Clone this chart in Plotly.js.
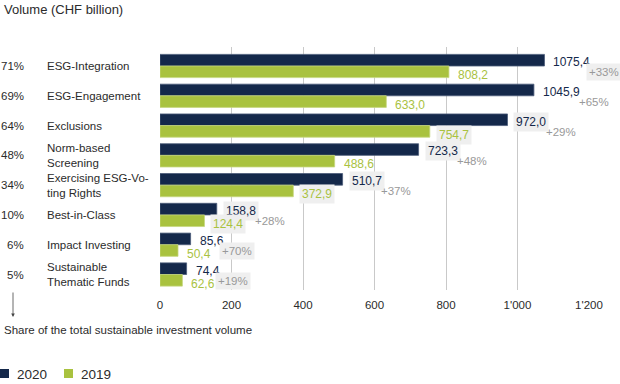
<!DOCTYPE html>
<html>
<head>
<meta charset="utf-8">
<script src="https://cdn.plot.ly/plotly-3.0.1.min.js"></script>
<style>html,body{margin:0;padding:0;background:#fff;}#chart{width:620px;height:384px;}</style>
</head>
<body>
<div id="chart"></div>
<script>
// ---- data ----
const categories = ['ESG-Integration', 'ESG-Engagement', 'Exclusions', 'Norm-based<br>Screening',
  'Exercising ESG-Vo-<br>ting Rights', 'Best-in-Class', 'Impact Investing', 'Sustainable<br>Thematic Funds'];
const shares = ['71%', '69%', '64%', '48%', '34%', '10%', '6%', '5%'];
const values2020 = [1075.4, 1045.9, 972.0, 723.3, 510.7, 158.8, 85.6, 74.4];
const values2019 = [808.2, 633.0, 754.7, 488.6, 372.9, 124.4, 50.4, 62.6];
const growth = ['+33%', '+65%', '+29%', '+48%', '+37%', '+28%', '+70%', '+19%'];
const tickValues = [0, 200, 400, 600, 800, 1000, 1200];
const tickLabels = ['0', '200', '400', '600', '800', "1'000", "1'200"];
const seriesNames = ['2020', '2019'];

// ---- styles ----
const NAVY = '#14284a', GREEN = '#a9c23f', GREY = '#999999', BG = '#efefef', TXT = '#2b2b2b';
const FONT = 'Liberation Sans, Arial, Helvetica, sans-serif';
const FS = 11.5, FN = 12, FG = 11.5;
const bg2020 = [false, false, true, true, true, true, false, false];
const bg2019 = [false, false, true, false, true, true, false, false];
const bgGrowth = [true, false, false, false, false, false, true, true];

const L = 160, R = 31, T = 47, B = 94, W = 620, H = 384;
const PW = W - L - R, PH = H - T - B;
const px2x = p => (p - L) / PW;
const py2y = p => 1 - (p - T) / PH;

const ctx = document.createElement('canvas').getContext('2d');
ctx.font = FN + 'px ' + FONT;
const tw = s => ctx.measureText(s).width;
const fmt = v => v.toFixed(1).replace('.', ',');
const XS = 6;

const traces = [
  {type: 'bar', orientation: 'h', name: seriesNames[0], y: categories, x: values2020,
   marker: {color: NAVY, line: {color: '#4a5a78', width: 0.8}}, hoverinfo: 'x'},
  {type: 'bar', orientation: 'h', name: seriesNames[1], y: categories, x: values2019,
   marker: {color: GREEN, line: {color: '#c7d77f', width: 0.8}}, hoverinfo: 'x'}
];

const ann = [];
categories.forEach((c, i) => {
  const t20 = fmt(values2020[i]), t19 = fmt(values2019[i]);
  ann.push({xref: 'x', yref: 'y', x: values2020[i], y: c, text: t20, showarrow: false,
    xanchor: 'left', xshift: XS, yshift: 4, font: {family: FONT, size: FN, color: NAVY},
    bgcolor: bg2020[i] ? BG : 'rgba(0,0,0,0)', borderpad: 2});
  ann.push({xref: 'x', yref: 'y', x: values2019[i], y: c, text: t19, showarrow: false,
    xanchor: 'left', xshift: XS, yshift: -9, font: {family: FONT, size: FN, color: GREEN},
    bgcolor: bg2019[i] ? BG : 'rgba(0,0,0,0)', borderpad: 2});
  ann.push({xref: 'x', yref: 'y', x: values2020[i], y: c, text: growth[i], showarrow: false,
    xanchor: 'left', xshift: XS + tw(t20) - 1, yshift: -6, font: {family: FONT, size: FG, color: GREY},
    bgcolor: bgGrowth[i] ? BG : 'rgba(0,0,0,0)', borderpad: 2});
  // left labels
  ann.push({xref: 'paper', yref: 'y', x: px2x(26), y: c, text: shares[i], showarrow: false,
    xanchor: 'right', font: {family: FONT, size: FS, color: TXT}});
  ann.push({xref: 'paper', yref: 'y', x: px2x(45), y: c, text: c, showarrow: false,
    xanchor: 'left', align: 'left', font: {family: FONT, size: FS, color: TXT}});
});

// title, footnote, arrow
ann.push({xref: 'paper', yref: 'paper', x: px2x(2), y: py2y(10), text: 'Volume (CHF billion)',
  showarrow: false, xanchor: 'left', yanchor: 'middle', font: {family: FONT, size: 13, color: TXT}});
ann.push({xref: 'paper', yref: 'paper', x: px2x(2), y: py2y(330),
  text: 'Share of the total sustainable investment volume',
  showarrow: false, xanchor: 'left', yanchor: 'middle', font: {family: FONT, size: FS, color: TXT}});
ann.push({xref: 'paper', yref: 'paper', x: px2x(13), y: py2y(317), ax: 0, ay: -26, text: '',
  showarrow: true, arrowhead: 2, arrowsize: 0.9, arrowwidth: 0.8, arrowcolor: '#444'});

// legend (custom)
const shapes = [];
const legColors = [NAVY, GREEN];
const legX = [0, 64];
seriesNames.forEach((n, k) => {
  shapes.push({type: 'rect', xref: 'paper', yref: 'paper', x0: px2x(legX[k]), x1: px2x(legX[k] + 9),
    y0: py2y(378), y1: py2y(369), fillcolor: legColors[k], line: {width: 0}});
  ann.push({xref: 'paper', yref: 'paper', x: px2x(legX[k] + 15), y: py2y(374), text: n,
    showarrow: false, xanchor: 'left', yanchor: 'middle', font: {family: FONT, size: 13.5, color: TXT}});
});

const layout = {
  width: W, height: H,
  margin: {l: L, r: R, t: T, b: B, pad: 0},
  paper_bgcolor: '#fff', plot_bgcolor: '#fff',
  barmode: 'group', bargap: 0.22, bargroupgap: 0,
  showlegend: false,
  xaxis: {range: [0, 1200], tickvals: tickValues, ticktext: tickLabels, showgrid: true,
    gridcolor: '#c9c9c9', gridwidth: 1, zeroline: false, showline: false, ticks: '',
    tickfont: {family: FONT, size: FS, color: TXT}, ticklabelstandoff: 6, fixedrange: true},
  yaxis: {autorange: 'reversed', showticklabels: false, showgrid: false, zeroline: false,
    showline: false, ticks: '', fixedrange: true},
  annotations: ann, shapes: shapes
};

Plotly.newPlot('chart', traces, layout, {displayModeBar: false, staticPlot: true});
</script>
</body>
</html>
